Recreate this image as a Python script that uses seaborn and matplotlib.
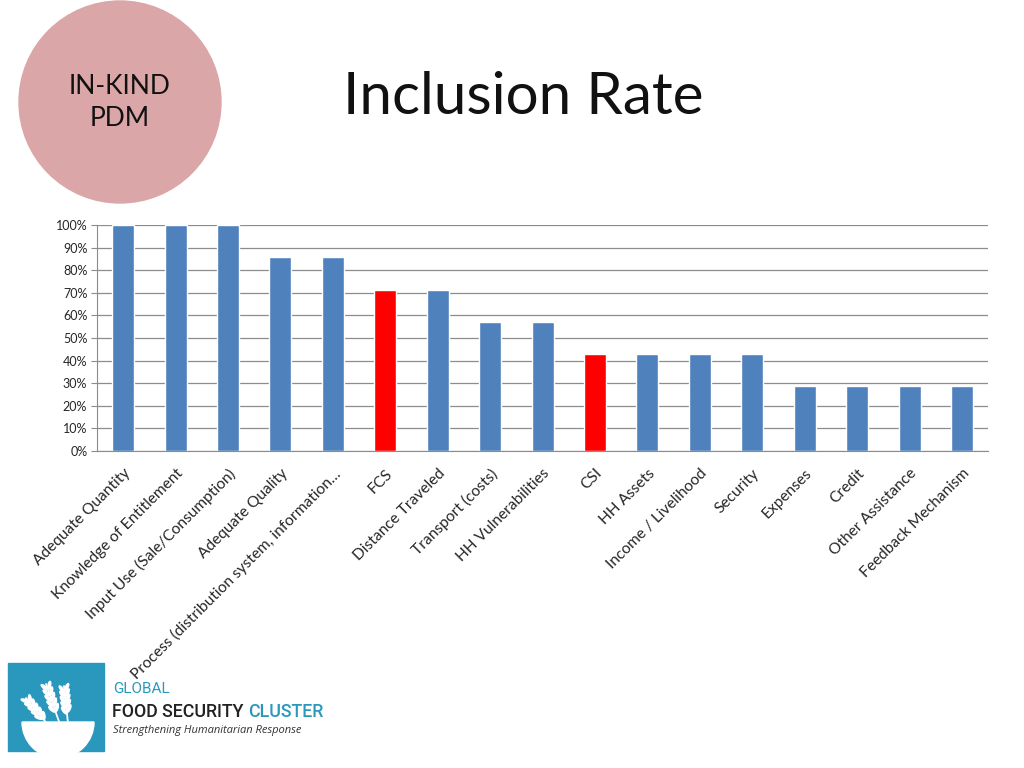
import numpy as np
import pandas as pd
import seaborn as sns
import matplotlib.pyplot as plt
from matplotlib.patches import Circle, Rectangle, Wedge, Ellipse
from matplotlib.ticker import PercentFormatter

# Chart data
categories = [
    "Adequate Quantity", "Knowledge of Entitlement", "Input Use (Sale/Consumption)",
    "Adequate Quality", "Process (distribution system, information\u2026", "FCS",
    "Distance Traveled", "Transport (costs)", "HH Vulnerabilities", "CSI",
    "HH Assets", "Income / Livelihood", "Security", "Expenses", "Credit",
    "Other Assistance", "Feedback Mechanism",
]
inclusion_rate = [1.0, 1.0, 1.0, 0.857, 0.857, 0.714, 0.714, 0.571, 0.571,
                  0.429, 0.429, 0.429, 0.429, 0.286, 0.286, 0.286, 0.286]
highlighted = ["FCS", "CSI"]

blue = "#4f81bd"
red = "#ff0000"
teal = "#2a98bd"
bar_colors = [red if c in highlighted else blue for c in categories]

df = pd.DataFrame({"indicator": categories, "rate": inclusion_rate})

sns.set_style("white")
plt.rcParams['font.family'] = ['Lato', 'DejaVu Sans']

fig = plt.figure(figsize=(10.24, 7.68), dpi=100)
ax = fig.add_axes([0.0947, 0.4128, 0.8703, 0.2942])

sns.barplot(data=df, x="indicator", y="rate", hue="indicator",
            palette=bar_colors, legend=False, width=0.42, saturation=1, ax=ax)

ax.set_ylim(0, 1)
ax.set_xlim(-0.5, len(categories) - 0.5)
ax.set_yticks(np.arange(0, 1.01, 0.1))
ax.yaxis.set_major_formatter(PercentFormatter(1.0, decimals=0))
ax.grid(axis="y", color="#8c8c8c", linewidth=0.9)
ax.set_axisbelow(True)
ax.set_xlabel("")
ax.set_ylabel("")
for side in ["top", "right"]:
    ax.spines[side].set_visible(False)
ax.spines["left"].set_color("#8c8c8c")
ax.spines["bottom"].set_color("#8c8c8c")
ax.tick_params(axis="y", length=4, color="#8c8c8c", labelsize=9, pad=3, left=True)
ax.tick_params(axis="x", length=0, labelsize=11.2, pad=11)
ax.set_xticks(range(len(categories)))
ax.set_xticklabels(categories, rotation=45, ha="right", rotation_mode="anchor")

# Title
fig.text(0.511, 0.873, "Inclusion Rate", fontsize=42, ha="center", va="center",
         color="#111111")

# Pink circle badge
badge = fig.add_axes([0, 0, 1, 1], zorder=-1)
badge.set_xlim(0, 1024)
badge.set_ylim(768, 0)
badge.axis("off")
badge.add_patch(Circle((120, 102), 101, color="#dba6a7"))
badge.text(120, 86, "IN-KIND", fontsize=19, ha="center", va="center", color="#111111")
badge.text(120, 119, "PDM", fontsize=19, ha="center", va="center", color="#111111")

# Logo
badge.add_patch(Rectangle((8, 663), 96, 88, color=teal))
badge.add_patch(Wedge((58, 722), 36, 0, 180, color="white"))
# simple wheat stalks leaning left
for x0, y0, x1, y1 in [(26, 698, 62, 742), (46, 684, 66, 742), (64, 686, 70, 742)]:
    badge.plot([x0, x1], [y0, y1], color="white", lw=1.3)
    ang = np.degrees(np.arctan2(y1 - y0, x1 - x0))
    for t in np.linspace(0.04, 0.42, 5):
        xm = x0 + (x1 - x0) * t
        ym = y0 + (y1 - y0) * t
        badge.add_patch(Ellipse((xm - 2.5, ym + 1), 8, 2.6, angle=ang - 30, color="white"))
        badge.add_patch(Ellipse((xm + 2.5, ym - 1), 8, 2.6, angle=ang + 30, color="white"))

badge.text(113, 689, "GLOBAL", fontsize=11, color=teal, va="center",
           family=["Roboto", "DejaVu Sans"])
food = badge.text(112, 712, "FOOD SECURITY", fontsize=12.8, color="#222222", va="center",
                  family=["Roboto", "DejaVu Sans"], fontweight="medium")
fig.canvas.draw()
bb = food.get_window_extent()
x_end = badge.transData.inverted().transform((bb.x1, bb.y0))[0]
badge.text(x_end + 5, 712, "CLUSTER", fontsize=12.8, color=teal, va="center",
           family=["Roboto", "DejaVu Sans"], fontweight="medium")
badge.text(113, 730, "Strengthening Humanitarian Response", fontsize=8, color="#333333",
           va="center", style="italic", family=["Open Sans", "DejaVu Sans"])

fig.savefig("out.png", dpi=100)
